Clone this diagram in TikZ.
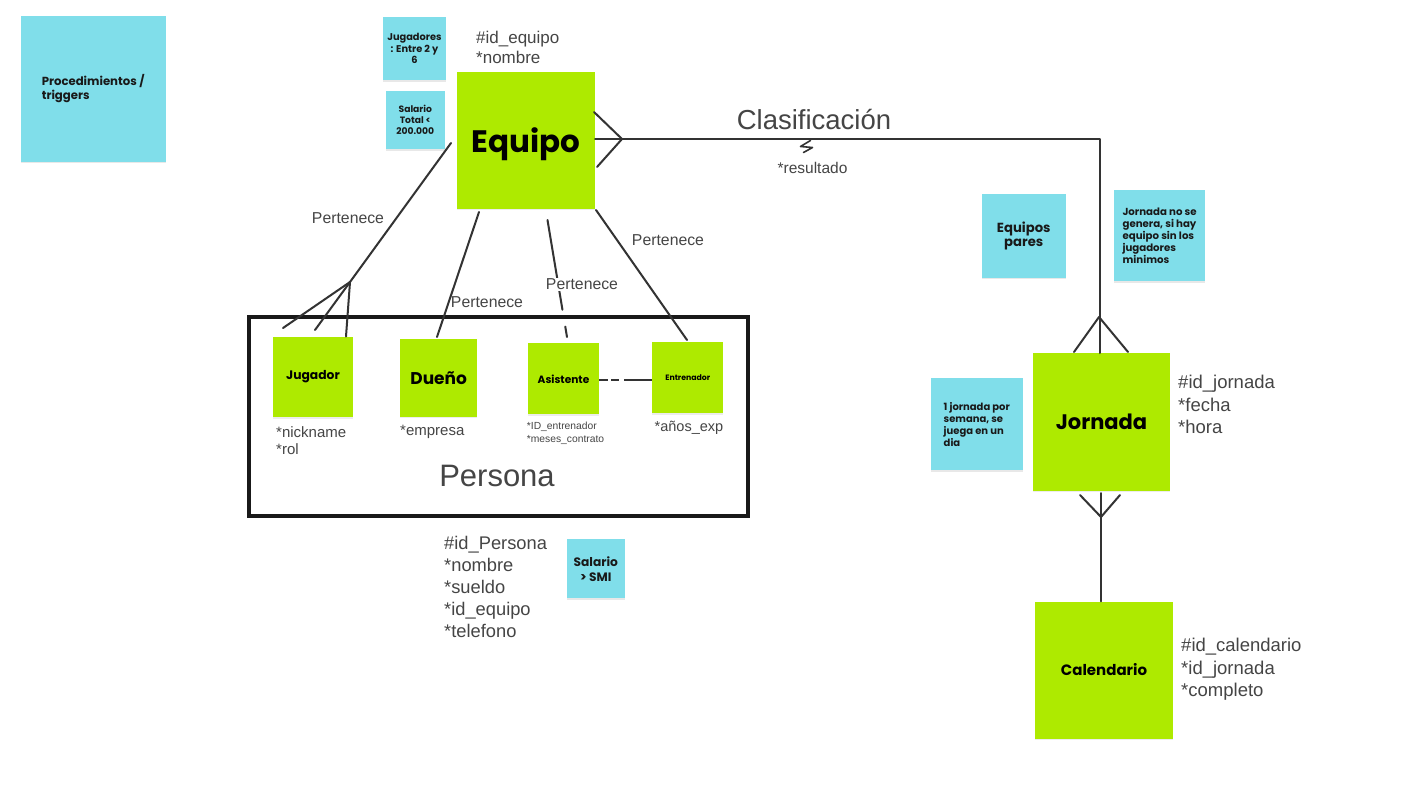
\documentclass[tikz,border=0pt]{standalone}
\usepackage{fontspec}
\setmainfont{Liberation Sans}
\newfontfamily\pop{Poppins}
\usetikzlibrary{shadows}
\definecolor{entc}{HTML}{AEEA00}
\definecolor{stkc}{HTML}{80DEEA}
\definecolor{txtc}{HTML}{454545}
\definecolor{lnc}{HTML}{333333}
\newcommand\fsz[2]{\fontsize{#1pt}{#2pt}\selectfont}
\tikzset{
  entbox/.style={fill=entc, draw=none, inner sep=0pt, text=black, align=center,
    drop shadow={shadow xshift=0pt, shadow yshift=-1.2pt, opacity=0.15}},
  stkbox/.style={fill=stkc, draw=none, inner sep=0pt, text=black!90, align=center,
    drop shadow={shadow xshift=0pt, shadow yshift=-1.5pt, opacity=0.18}},
  attr/.style={inner sep=0pt, text=txtc, align=left, anchor=north west},
  lbl/.style={inner sep=0pt, text=txtc},
  conn/.style={draw=lnc, line width=2pt, line cap=round, line join=round}
}
\begin{document}
\begin{tikzpicture}[x=1pt,y=-1pt]
\useasboundingbox[fill=white] (0,0) rectangle (1412,792);

% ---------- sticky notes ----------
\node[stkbox, minimum width=145pt, minimum height=146pt, font=\pop\bfseries\fsz{11.7}{14}, align=left] (proc) at (93.2,88.7) {Procedimientos /\\triggers};
\node[stkbox, minimum width=63pt, minimum height=63pt, font=\pop\bfseries\fsz{9.8}{11.7}] (njug) at (414.5,48.5) {Jugadores\\: Entre 2 y\\6};
\node[stkbox, minimum width=59pt, minimum height=58pt, font=\pop\bfseries\fsz{9.2}{11}] (nsal) at (415.3,120.2) {Salario\\Total <\\200.000};
\node[stkbox, minimum width=84pt, minimum height=84pt, font=\pop\bfseries\fsz{13.2}{14.3}] (npar) at (1023.7,235.8) {Equipos\\pares};
\node[stkbox, minimum width=91pt, minimum height=91pt, font=\pop\bfseries\fsz{10.2}{12.1}, align=left] (ngen) at (1159.6,235.5) {Jornada no se\\genera, si hay\\equipo sin los\\jugadores\\minimos};
\node[stkbox, minimum width=92pt, minimum height=92pt, font=\pop\bfseries\fsz{10}{12}, align=left] (nsem) at (976.8,424.2) {1 jornada por\\semana, se\\juega en un\\dia};
\node[stkbox, minimum width=58pt, minimum height=59pt, font=\pop\bfseries\fsz{12.2}{15}] (nsmi) at (595.8,568.8) {Salario\\> SMI};

% ---------- entities ----------
\node[entbox, minimum width=138pt, minimum height=137pt, text depth=0pt, font=\pop\bfseries\fsz{31}{33}] (equipo) at (526,140.5) {Equipo};
\node[entbox, minimum width=137pt, minimum height=138pt, font=\pop\bfseries\fsz{21}{24}] (jornada) at (1101.5,422) {Jornada};
\node[entbox, minimum width=138pt, minimum height=137pt, font=\pop\bfseries\fsz{15}{18}] (calendario) at (1104,670) {Calendario};
\node[entbox, minimum width=80.6pt, minimum height=80.6pt, font=\pop\bfseries\fsz{12.3}{14}] (jugador) at (313,377) {Jugador};
\node[entbox, minimum width=77.3pt, minimum height=77.4pt, font=\pop\bfseries\fsz{17}{19}] (dueno) at (438.7,378) {Dueño};
\node[entbox, minimum width=71.6pt, minimum height=71pt, font=\pop\bfseries\fsz{10.6}{12}] (asistente) at (563.5,378.8) {Asistente};
\node[entbox, minimum width=71pt, minimum height=71pt, font=\pop\bfseries\fsz{7.8}{9}] (entrenador) at (687.8,377.8) {Entrenador};

% ---------- Persona container ----------
\draw[line width=4pt, draw=black!90] (249,317) rectangle (748,516);
\node[lbl, font=\fsz{31}{34}] (persona) at (497,476) {Persona};

% ---------- attributes ----------
\node[attr, font=\fsz{17}{20}] (aeq) at (476,30.5) {\#id\_equipo\\*nombre};
\node[attr, font=\fsz{18.5}{22.5}] (ajor) at (1178,375) {\#id\_jornada\\*fecha\\*hora};
\node[attr, font=\fsz{18.5}{22.5}] (acal) at (1181,638) {\#id\_calendario\\*id\_jornada\\*completo};
\node[attr, font=\fsz{18.3}{22}] (aper) at (444,536) {\#id\_Persona\\*nombre\\*sueldo\\*id\_equipo\\*telefono};
\node[attr, font=\fsz{15}{16.5}] (ajug) at (276,426.5) {*nickname\\*rol};
\node[attr, font=\fsz{15}{16.5}] (adue) at (400,424.5) {*empresa};
\node[attr, font=\fsz{10.3}{13.3}] (aasi) at (526.7,422) {*ID\_entrenador\\*meses\_contrato};
\node[attr, font=\fsz{14.5}{16}] (aent) at (654.5,420.5) {*años\_exp};

% ---------- Clasificación relation ----------
\coordinate (eqR) at (595,139);
\coordinate (eqTip) at (622,139);
\coordinate (eqU) at (594,112);
\coordinate (eqD) at (597,167);
\coordinate (corner) at (1100,139);
\coordinate (jorTop) at (1100,353);
\coordinate (jorApex) at (1099,317);
\draw[conn] (eqR) -- (corner) -- (jorTop);
\draw[conn] (eqU) -- (eqTip) -- (eqD);
\draw[conn] (1074,352) -- (jorApex) -- (1128,352);
\draw[conn, line width=1.6pt] (810.5,140.5) -- (800.5,146.5) -- (812.5,147.5) -- (803.5,152.5);
\node[lbl, font=\fsz{27.5}{30}] (clas) at (814,120) {Clasificación};
\node[lbl, font=\fsz{15.5}{18}] (res) at (812.5,167.5) {*resultado};

% ---------- Jornada - Calendario ----------
\coordinate (jorBot) at (1101,493);
\coordinate (jorBApex) at (1101,517);
\draw[conn] (jorBot) -- (calendario.north -| jorBot);
\draw[conn] (1080,495) -- (jorBApex) -- (1120,495);

% ---------- Pertenece relations ----------
\coordinate (jugStart) at (451,143);
\coordinate (jugApex) at (350,282);
\draw[conn] (jugStart) -- (jugApex);
\draw[conn] (283,328) -- (jugApex);
\draw[conn] (315,330) -- (jugApex);
\draw[conn] (346,336.5) -- (jugApex);
\node[lbl, font=\fsz{15.8}{18}] (p1) at (348,218.5) {Pertenece};

\coordinate (dueStart) at (479,212);
\coordinate (dueEnd) at (437,337);
\draw[conn] (dueStart) -- (dueEnd);
\node[lbl, font=\fsz{15.8}{18}] (p2) at (487,302.5) {Pertenece};

\coordinate (asiStart) at (547.5,220);
\coordinate (asiEnd) at (567,337);
\draw[conn, dash pattern=on 91pt off 17pt on 20pt] (asiStart) -- (asiEnd);
\node[lbl, font=\fsz{15.8}{18}, fill=white, inner sep=1pt] (p3) at (582,284.5) {Pertenece};

\coordinate (entStart) at (596,210);
\coordinate (entEnd) at (687,340);
\draw[conn] (entStart) -- (entEnd);
\node[lbl, font=\fsz{15.8}{18}] (p4) at (668,240) {Pertenece};

\coordinate (asiE) at (599.3,380);
\coordinate (entW) at (652.3,380);
\draw[conn, line cap=butt, dash pattern=on 9pt off 3pt on 8pt off 5pt on 40pt] (asiE) -- (entW);
\end{tikzpicture}
\end{document}
